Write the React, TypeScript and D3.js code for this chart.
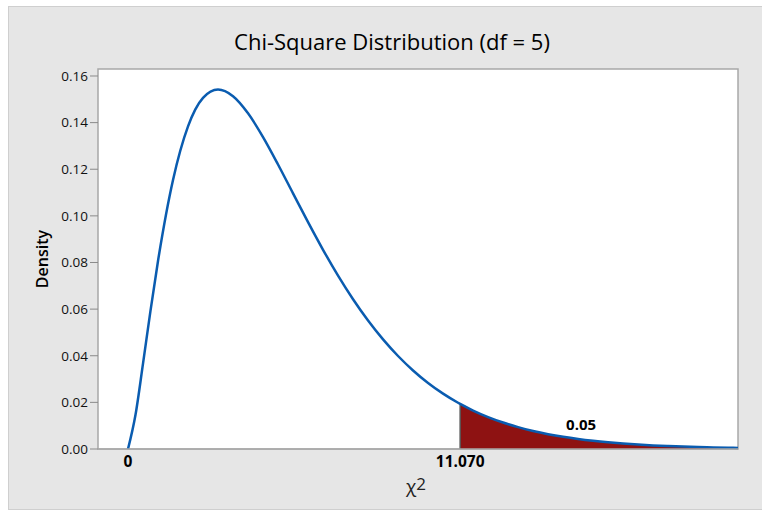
import React from "react";
import * as d3 from "d3";

// chi-square (df = 5) density
const chiX = [0, 0.25, 0.5, 0.75, 1, 1.5, 2, 2.5, 3, 3.5, 4, 4.5, 5, 5.5, 6, 6.5, 7, 7.5, 8, 8.5, 9, 9.5, 10, 10.5, 11, 11.07, 11.5, 12, 12.5, 13, 13.5, 14, 14.5, 15, 15.5, 16, 16.5, 17, 17.5, 18, 18.5, 19, 19.5, 20, 20.33];
const density = [0, 0.01467, 0.03662, 0.05936, 0.08066, 0.1154, 0.13837, 0.1506, 0.15418, 0.15131, 0.14398, 0.1338, 0.12204, 0.10965, 0.09731, 0.08545, 0.07437, 0.06424, 0.05511, 0.04701, 0.03989, 0.03369, 0.02833, 0.02374, 0.01983, 0.01933, 0.01651, 0.0137, 0.01135, 0.00937, 0.00772, 0.00635, 0.00521, 0.00427, 0.0035, 0.00286, 0.00233, 0.0019, 0.00154, 0.00125, 0.00102, 0.00082, 0.00067, 0.00054, 0.00047];
const yTicks = [0, 0.02, 0.04, 0.06, 0.08, 0.1, 0.12, 0.14, 0.16];
const critical = 11.07;
const xTickValues = [0, critical];
const xTickLabels = ["0", "11.070"];
const tailProb = "0.05";

const W = 762;
const H = 513;
const plot = { left: 98, right: 738, top: 69, bottom: 449 };
const font = "'Open Sans', 'Segoe UI', sans-serif";

type Pt = { x: number; d: number };

export default function App() {
  const x = d3.scaleLinear().domain([-1, 20.33]).range([plot.left, plot.right]);
  const y = d3.scaleLinear().domain([0, 0.163]).range([plot.bottom, plot.top]);

  const pts: Pt[] = chiX.map((v, i) => ({ x: v, d: density[i] }));
  const tail = pts.filter((p) => p.x >= critical);

  const line = d3
    .line<Pt>()
    .x((p) => x(p.x))
    .y((p) => y(p.d))
    .curve(d3.curveMonotoneX);
  const area = d3
    .area<Pt>()
    .x((p) => x(p.x))
    .y0(y(0))
    .y1((p) => y(p.d))
    .curve(d3.curveMonotoneX);

  const critD = density[chiX.indexOf(critical)];

  return (
    <svg width={W} height={H} style={{ position: "absolute", left: 0, top: 0 }}>
      <rect x={0} y={0} width={W} height={H} fill="#ffffff" />
      <rect x={8.5} y={6.5} width={W - 8} height={H - 10} fill="#e6e6e6" stroke="#cfcfcf" />
      <text x={392} y={49.5} textAnchor="middle" fontFamily={font} fontSize={22} fill="#000">
        Chi-Square Distribution (df = 5)
      </text>

      <rect
        x={plot.left}
        y={plot.top}
        width={plot.right - plot.left}
        height={plot.bottom - plot.top}
        fill="#ffffff"
        stroke="#a8a8a8"
        strokeWidth={1.5}
      />

      {yTicks.map((t) => (
        <g key={t}>
          <line x1={plot.left - 8} x2={plot.left} y1={y(t)} y2={y(t)} stroke="#8a8a8a" />
          <text
            x={plot.left - 10}
            y={y(t)}
            dy="0.36em"
            textAnchor="end"
            fontFamily={font}
            fontSize={13.5}
            fill="#111"
          >
            {t.toFixed(2)}
          </text>
        </g>
      ))}

      <path d={area(tail) || ""} fill="#8e1212" />
      <line x1={x(critical)} x2={x(critical)} y1={y(0)} y2={y(critD)} stroke="#555" strokeWidth={1.5} />
      <path d={line(pts) || ""} fill="none" stroke="#0a5cb0" strokeWidth={2.5} />
      <line x1={plot.left} x2={plot.right} y1={plot.bottom} y2={plot.bottom} stroke="#a8a8a8" strokeWidth={1.5} />

      {xTickValues.map((v, i) => (
        <text
          key={v}
          x={x(v)}
          y={467}
          textAnchor="middle"
          fontFamily={font}
          fontSize={15.5}
          fontWeight="bold"
          fill="#000"
        >
          {xTickLabels[i]}
        </text>
      ))}
      <text x={x(15.1)} y={430} textAnchor="middle" fontFamily={font} fontSize={15} fontWeight="bold" fill="#000">
        {tailProb}
      </text>

      <text x={416} y={493} textAnchor="middle" fontFamily={font} fontSize={19} fill="#222">
        χ<tspan dy={-3} fontSize={17}>2</tspan>
      </text>
      <text
        transform="translate(48,259) rotate(-90)"
        textAnchor="middle"
        fontFamily={font}
        fontSize={16}
        fontWeight={600}
        fill="#000"
      >
        Density
      </text>
    </svg>
  );
}
